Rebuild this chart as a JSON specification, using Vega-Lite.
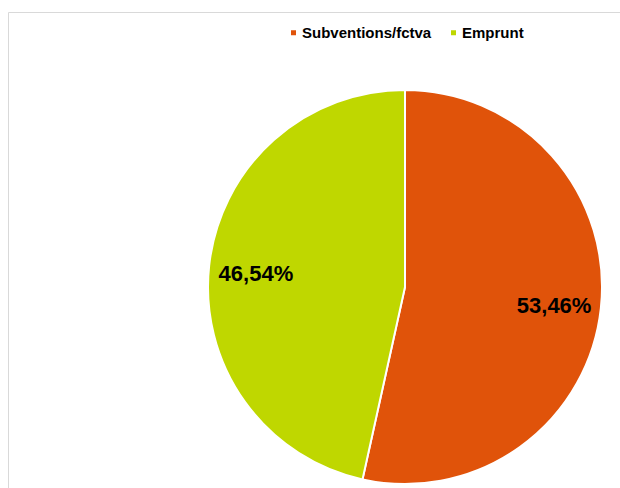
{
  "$schema": "https://vega.github.io/schema/vega-lite/v6.json",
  "width": 614,
  "height": 478,
  "autosize": {"type": "none"},
  "padding": {"left": 8, "top": 12, "right": -2, "bottom": -2},
  "background": "white",
  "config": {
    "font": "Liberation Sans"
  },
  "view": {"stroke": "#d9d9d9", "strokeWidth": 1},
  "data": {
    "values": [
      {"category": "Subventions/fctva", "share": 53.46, "label": "53,46%"},
      {"category": "Emprunt", "share": 46.54, "label": "46,54%"}
    ]
  },
  "encoding": {
    "theta": {"field": "share", "type": "quantitative", "stack": true},
    "order": {"field": "category", "sort": "descending"},
    "color": {
      "field": "category",
      "type": "nominal",
      "scale": {"domain": ["Subventions/fctva", "Emprunt"], "range": ["#E0530A", "#BFD700"]},
      "legend": {
        "orient": "none",
        "legendX": 278,
        "legendY": 13,
        "direction": "horizontal",
        "title": null,
        "symbolType": "square",
        "symbolSize": 25,
        "symbolStrokeWidth": 0,
        "labelFontSize": 15,
        "labelFontWeight": "bold",
        "labelColor": "black",
        "labelFont": "Liberation Sans",
        "columnPadding": 14,
        "labelOffset": 1
      }
    }
  },
  "layer": [
    {
      "mark": {"type": "arc", "outerRadius": 197, "x": 397, "y": 275, "stroke": "white", "strokeWidth": 2}
    },
    {
      "mark": {"type": "text", "radius": 150, "x": 397, "y": 275, "font": "Liberation Sans", "fontSize": 22, "fontWeight": "bold", "dy": 3},
      "encoding": {
        "text": {"field": "label"},
        "color": {"value": "black"}
      }
    }
  ]
}
